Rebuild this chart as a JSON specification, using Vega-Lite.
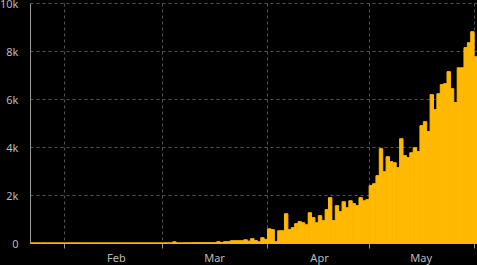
{
  "$schema": "https://vega.github.io/schema/vega-lite/v6.json",
  "autosize": "none",
  "width": 447,
  "height": 240,
  "padding": {"left": 30, "top": 3, "right": 0, "bottom": 22},
  "background": "#000000",
  "config": {
    "view": {"stroke": null},
    "font": "Noto Sans",
    "axis": {"labelFont": "Noto Sans", "labelFontSize": 11, "labelColor": "#bbbbbb", "gridColor": "#555555", "gridDash": [3, 3], "gridWidth": 1}
  },
  "data": {
    "values": [
      {"date": "2020-01-22", "cases": 0}, {"date": "2020-01-23", "cases": 0}, {"date": "2020-01-24", "cases": 0}, {"date": "2020-01-25", "cases": 0},
      {"date": "2020-01-26", "cases": 0}, {"date": "2020-01-27", "cases": 0}, {"date": "2020-01-28", "cases": 0}, {"date": "2020-01-29", "cases": 0},
      {"date": "2020-01-30", "cases": 1}, {"date": "2020-01-31", "cases": 0}, {"date": "2020-02-01", "cases": 0}, {"date": "2020-02-02", "cases": 1},
      {"date": "2020-02-03", "cases": 1}, {"date": "2020-02-04", "cases": 0}, {"date": "2020-02-05", "cases": 0}, {"date": "2020-02-06", "cases": 0},
      {"date": "2020-02-07", "cases": 0}, {"date": "2020-02-08", "cases": 0}, {"date": "2020-02-09", "cases": 0}, {"date": "2020-02-10", "cases": 0},
      {"date": "2020-02-11", "cases": 0}, {"date": "2020-02-12", "cases": 0}, {"date": "2020-02-13", "cases": 0}, {"date": "2020-02-14", "cases": 0},
      {"date": "2020-02-15", "cases": 0}, {"date": "2020-02-16", "cases": 0}, {"date": "2020-02-17", "cases": 0}, {"date": "2020-02-18", "cases": 0},
      {"date": "2020-02-19", "cases": 0}, {"date": "2020-02-20", "cases": 0}, {"date": "2020-02-21", "cases": 0}, {"date": "2020-02-22", "cases": 0},
      {"date": "2020-02-23", "cases": 0}, {"date": "2020-02-24", "cases": 0}, {"date": "2020-02-25", "cases": 0}, {"date": "2020-02-26", "cases": 0},
      {"date": "2020-02-27", "cases": 0}, {"date": "2020-02-28", "cases": 0}, {"date": "2020-02-29", "cases": 0}, {"date": "2020-03-01", "cases": 0},
      {"date": "2020-03-02", "cases": 2}, {"date": "2020-03-03", "cases": 1}, {"date": "2020-03-04", "cases": 50}, {"date": "2020-03-05", "cases": 1},
      {"date": "2020-03-06", "cases": 1}, {"date": "2020-03-07", "cases": 3}, {"date": "2020-03-08", "cases": 5}, {"date": "2020-03-09", "cases": 5},
      {"date": "2020-03-10", "cases": 10}, {"date": "2020-03-11", "cases": 8}, {"date": "2020-03-12", "cases": 10}, {"date": "2020-03-13", "cases": 8},
      {"date": "2020-03-14", "cases": 10}, {"date": "2020-03-15", "cases": 10}, {"date": "2020-03-16", "cases": 8}, {"date": "2020-03-17", "cases": 55},
      {"date": "2020-03-18", "cases": 15}, {"date": "2020-03-19", "cases": 55}, {"date": "2020-03-20", "cases": 55}, {"date": "2020-03-21", "cases": 95},
      {"date": "2020-03-22", "cases": 95}, {"date": "2020-03-23", "cases": 95}, {"date": "2020-03-24", "cases": 95}, {"date": "2020-03-25", "cases": 135},
      {"date": "2020-03-26", "cases": 80}, {"date": "2020-03-27", "cases": 180}, {"date": "2020-03-28", "cases": 100}, {"date": "2020-03-29", "cases": 50},
      {"date": "2020-03-30", "cases": 220}, {"date": "2020-03-31", "cases": 150}, {"date": "2020-04-01", "cases": 590}, {"date": "2020-04-02", "cases": 555},
      {"date": "2020-04-03", "cases": 55}, {"date": "2020-04-04", "cases": 510}, {"date": "2020-04-05", "cases": 510}, {"date": "2020-04-06", "cases": 1220},
      {"date": "2020-04-07", "cases": 555}, {"date": "2020-04-08", "cases": 640}, {"date": "2020-04-09", "cases": 805}, {"date": "2020-04-10", "cases": 890},
      {"date": "2020-04-11", "cases": 845}, {"date": "2020-04-12", "cases": 760}, {"date": "2020-04-13", "cases": 1260}, {"date": "2020-04-14", "cases": 1055},
      {"date": "2020-04-15", "cases": 845}, {"date": "2020-04-16", "cases": 1140}, {"date": "2020-04-17", "cases": 930}, {"date": "2020-04-18", "cases": 1390},
      {"date": "2020-04-19", "cases": 1890}, {"date": "2020-04-20", "cases": 930}, {"date": "2020-04-21", "cases": 1555}, {"date": "2020-04-22", "cases": 1305},
      {"date": "2020-04-23", "cases": 1720}, {"date": "2020-04-24", "cases": 1470}, {"date": "2020-04-25", "cases": 1760}, {"date": "2020-04-26", "cases": 1640},
      {"date": "2020-04-27", "cases": 1555}, {"date": "2020-04-28", "cases": 1890}, {"date": "2020-04-29", "cases": 1760}, {"date": "2020-04-30", "cases": 1805},
      {"date": "2020-05-01", "cases": 2390}, {"date": "2020-05-02", "cases": 2470}, {"date": "2020-05-03", "cases": 2805}, {"date": "2020-05-04", "cases": 3930},
      {"date": "2020-05-05", "cases": 2970}, {"date": "2020-05-06", "cases": 3595}, {"date": "2020-05-07", "cases": 3390}, {"date": "2020-05-08", "cases": 3345},
      {"date": "2020-05-09", "cases": 3140}, {"date": "2020-05-10", "cases": 4345}, {"date": "2020-05-11", "cases": 3640}, {"date": "2020-05-12", "cases": 3555},
      {"date": "2020-05-13", "cases": 3760}, {"date": "2020-05-14", "cases": 3970}, {"date": "2020-05-15", "cases": 3805}, {"date": "2020-05-16", "cases": 4890},
      {"date": "2020-05-17", "cases": 5055}, {"date": "2020-05-18", "cases": 4640}, {"date": "2020-05-19", "cases": 6180}, {"date": "2020-05-20", "cases": 5555},
      {"date": "2020-05-21", "cases": 6220}, {"date": "2020-05-22", "cases": 6600}, {"date": "2020-05-23", "cases": 6640}, {"date": "2020-05-24", "cases": 7140},
      {"date": "2020-05-25", "cases": 6430}, {"date": "2020-05-26", "cases": 5850}, {"date": "2020-05-27", "cases": 7300}, {"date": "2020-05-28", "cases": 7300},
      {"date": "2020-05-29", "cases": 8140}, {"date": "2020-05-30", "cases": 8345}, {"date": "2020-05-31", "cases": 8805}, {"date": "2020-06-01", "cases": 7760}
    ]
  },
  "mark": {"type": "bar", "color": "#ffb900", "binSpacing": 0, "stroke": "#ffb900", "strokeWidth": 1},
  "encoding": {
    "x": {
      "field": "date",
      "type": "temporal",
      "timeUnit": "utcyearmonthdate",
      "scale": {"domain": ["2020-01-22", "2020-06-02"]},
      "axis": {
        "title": null,
        "values": ["2020-02-01", "2020-03-01", "2020-04-01", "2020-05-01", "2020-06-01"],
        "format": "%b",
        "labelExpr": "datum.label == 'Jun' ? '' : datum.label",
        "labelOffset": 52,
        "labelPadding": 4,
        "tickSize": 5,
        "tickColor": "#999999",
        "domainColor": "#d0b060",
        "grid": true
      }
    },
    "y": {
      "field": "cases",
      "type": "quantitative",
      "scale": {"domain": [0, 10000]},
      "axis": {
        "title": null,
        "values": [0, 2000, 4000, 6000, 8000, 10000],
        "labelExpr": "datum.value == 0 ? '0' : (datum.value / 1000) + 'k'",
        "ticks": false,
        "labelPadding": 12,
        "labelOffset": 1,
        "domainColor": "#999999",
        "grid": true
      }
    }
  }
}
